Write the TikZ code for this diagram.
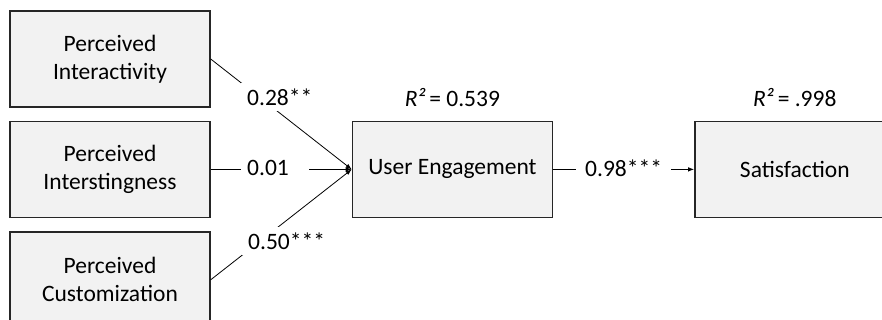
\documentclass[tikz,border=0pt]{standalone}
\usepackage{fontspec}
\setmainfont{Carlito}
\usetikzlibrary{arrows.meta, positioning}
\definecolor{boxgray}{RGB}{242,242,242}

\begin{document}
\begin{tikzpicture}[x=1pt, y=-1pt, font=\fontsize{23.5}{28}\selectfont,
		base/.style = {draw=black!85, line width=1.4pt, fill=boxgray, minimum width=200pt, minimum height=96pt, align=center, inner sep=2pt},
		box/.style = {rectangle, base},
		lbl/.style = {fill=white, inner sep=6pt},
		link/.style = {line width=0.8pt, -{Latex[length=6pt,width=4.5pt]}}
		]
		\clip (0,0) rectangle (882,320);
		\node (A) [box] at (110,59) {Perceived\\Interactivity};
		\node (B) [box,below=13pt of A] {Perceived\\Interstingness};
		\node (C) [box,below=13pt of B] {Perceived\\Customization};
		\node (D) [box,right=141pt of B] {User Engagement};
		\node (E) [box,right=141pt of D] {Satisfaction};
		\node (F) [above=12pt of D, inner sep=2pt] {\textit{R²}\,= 0.539};
		\node (G) [above=12pt of E, inner sep=2pt] {\textit{R²}\,= .998};
		
		\draw[link] (A.east) -- (D.west);
		\draw[link] (B.east) -- (D.west);
		\draw[link] (C.east) -- (D.west);
		\draw[link] (D.east) -- (E.west);
		
		\node (H) [lbl,anchor=west] at (241,97) {0.28**};
		\node (I) [lbl,anchor=west] at (241,168) {0.01\kern14pt};
		\node (J) [lbl,anchor=west] at (242,241) {0.50***};
		\node (K) [lbl,anchor=west,inner xsep=9pt] at (576,168) {0.98***};
	\end{tikzpicture}
\end{document}
